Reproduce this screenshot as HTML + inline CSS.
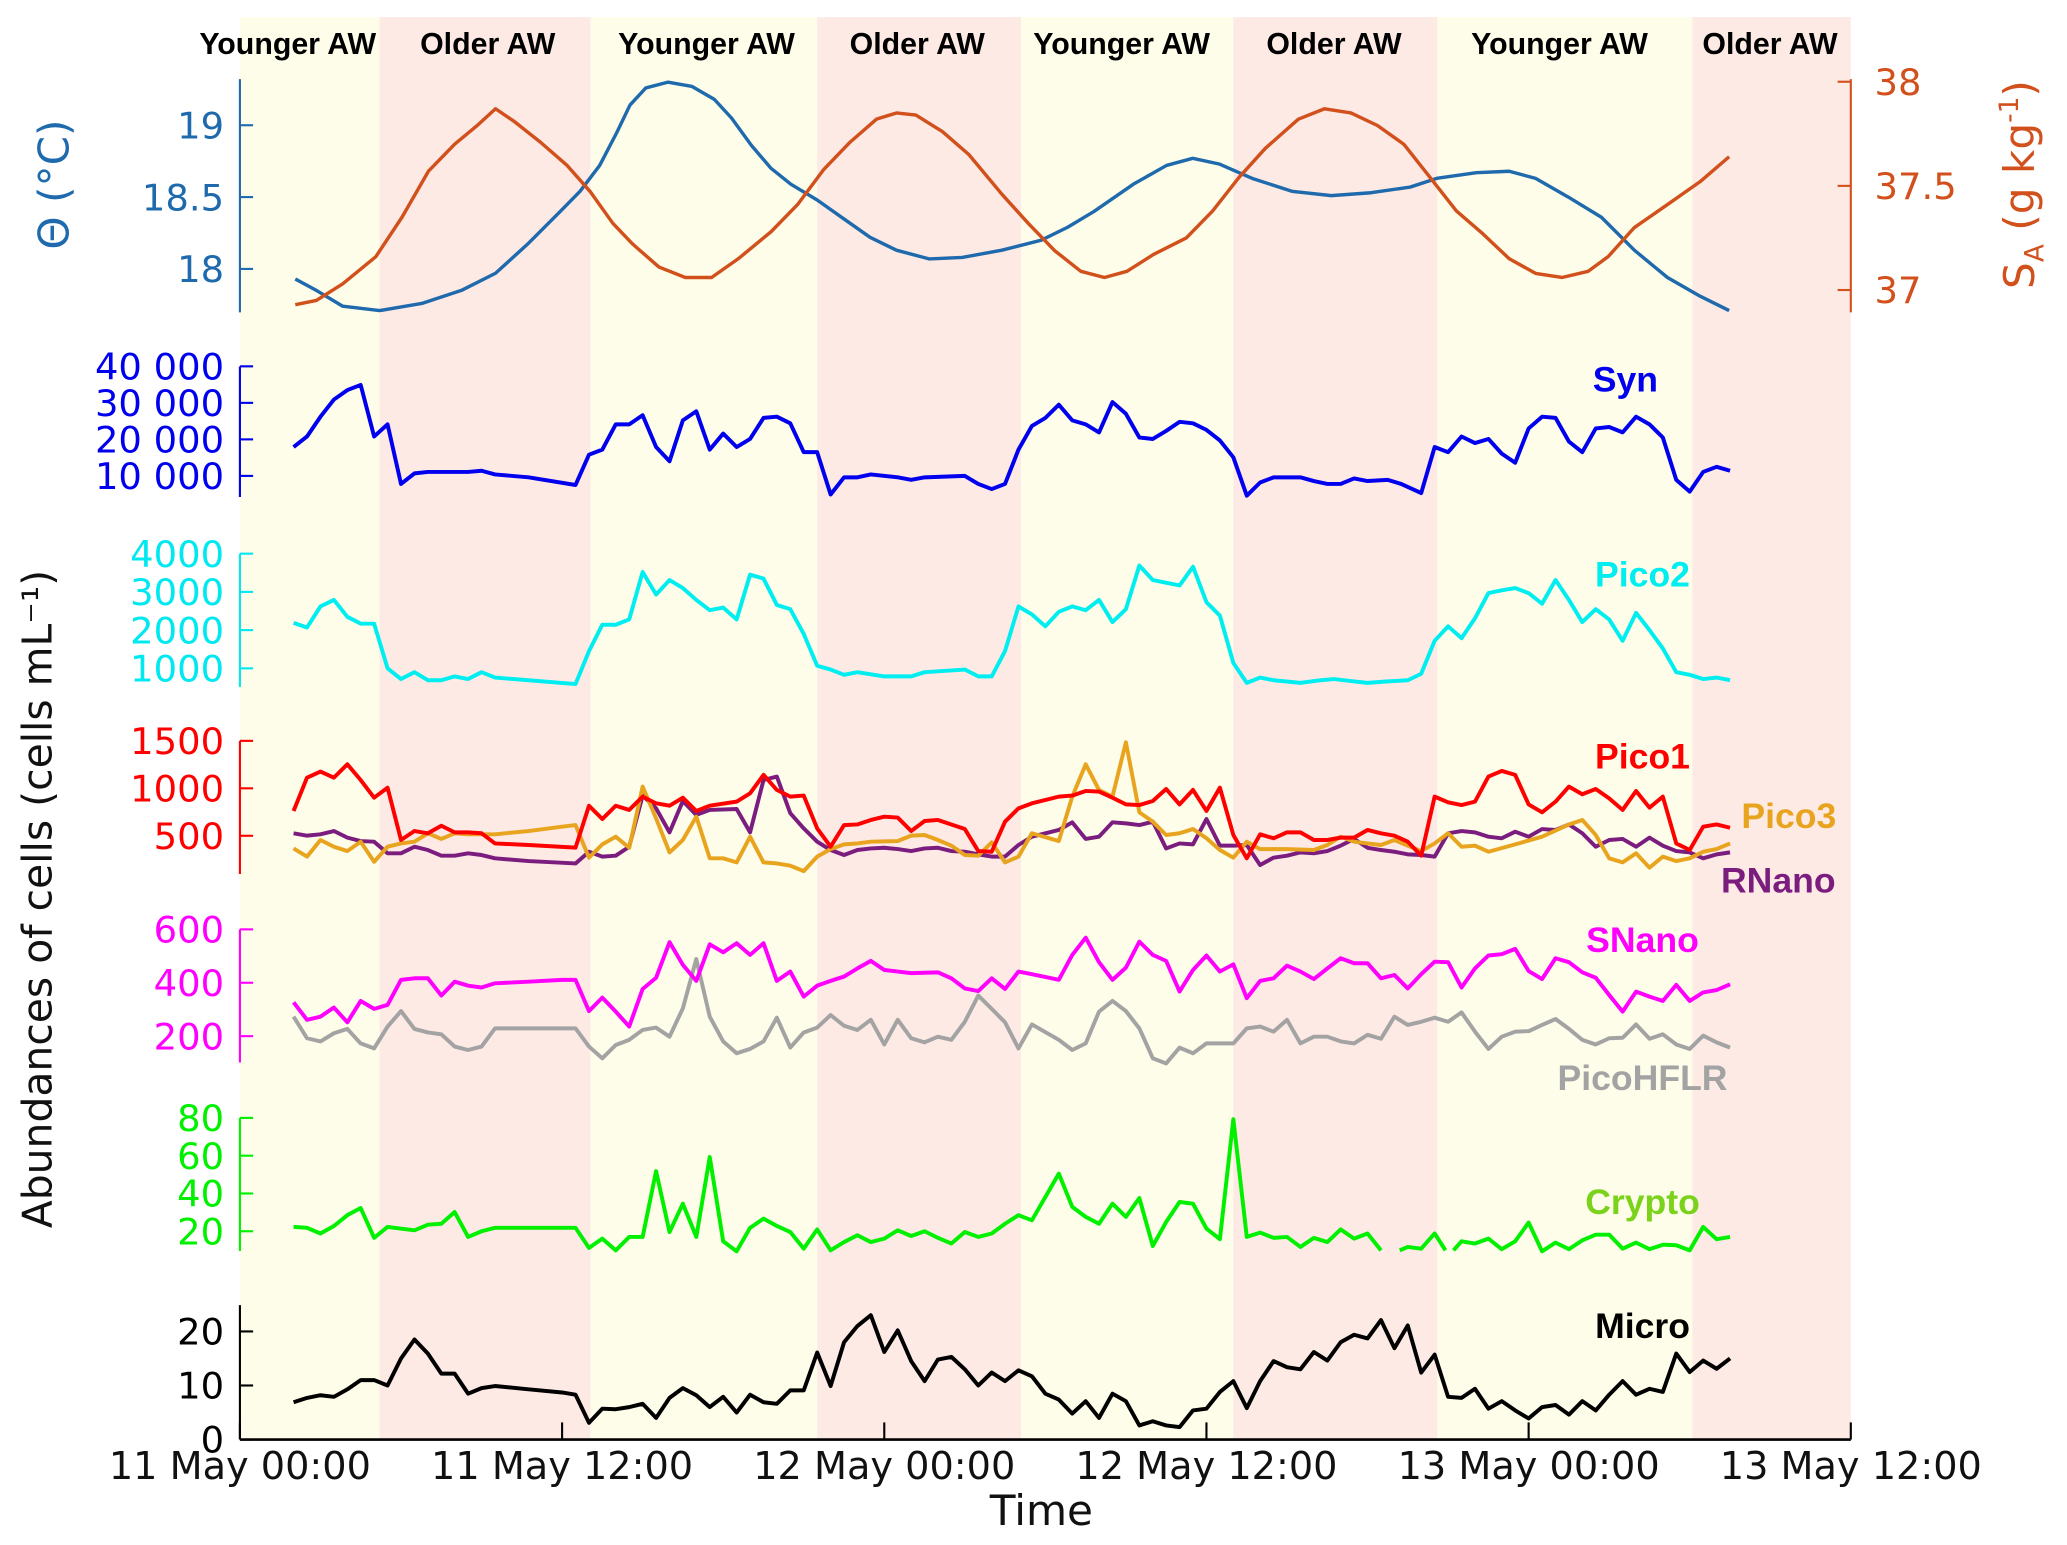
<!DOCTYPE html>
<html><head><meta charset="utf-8">
<style>
html,body{margin:0;padding:0;background:#fff;}
svg{display:block;}
text{font-family:"DejaVu Sans","Liberation Sans",sans-serif;}
.lbl{font-family:"Liberation Sans",sans-serif;font-weight:bold;}
</style></head>
<body>
<svg id="chart" width="2067" height="1545" viewBox="0 0 1568 1172" preserveAspectRatio="none" xmlns="http://www.w3.org/2000/svg">
<g id="bg"></g>
<g id="marks"></g>
<g id="axes"></g>
</svg>
<script>
// ---------- data (time in hours since 11 May 00:00) ----------
const massNames = ["Younger AW","Older AW","Younger AW","Older AW","Younger AW","Older AW","Younger AW","Older AW"];
const massStarts = [0,5.2,13.06,21.5,29.1,37.0,44.6,54.1];
const massEnds = [5.2,13.06,21.5,29.1,37.0,44.6,54.1,60];
const massLabelHours = [1.78,9.23,17.38,25.23,32.84,40.75,49.15,56.99];
const xTickHours = [0,12,24,36,48,60];
const xTickLabels = ["11 May 00:00","11 May 12:00","12 May 00:00","12 May 12:00","13 May 00:00","13 May 12:00"];

const thetaT = [2.06,2.85,3.83,5.2,6.77,8.25,9.52,10.7,11.93,12.67,13.4,14.04,14.53,15.12,15.95,16.84,17.67,18.31,19.05,19.78,20.52,21.5,22.48,23.47,24.45,25.67,26.9,28.38,29.85,30.83,31.81,33.28,34.51,35.49,36.47,37.7,39.18,40.65,42.13,43.59,44.58,46.05,47.28,48.26,49.48,50.71,51.94,53.17,54.39,55.47];
const thetaV = [17.93,17.85,17.74,17.71,17.76,17.85,17.97,18.17,18.40,18.54,18.72,18.95,19.14,19.26,19.30,19.27,19.18,19.05,18.86,18.70,18.59,18.48,18.35,18.22,18.13,18.07,18.08,18.13,18.20,18.29,18.40,18.59,18.72,18.77,18.73,18.63,18.54,18.51,18.53,18.57,18.63,18.67,18.68,18.63,18.50,18.36,18.13,17.94,17.81,17.71];
const saT = [2.06,2.85,3.83,5.06,6.04,7.02,8.0,8.84,9.52,10.21,11.19,12.17,13.06,13.89,14.63,15.61,16.59,17.57,18.56,19.78,20.77,21.75,22.73,23.71,24.45,25.18,26.17,27.15,28.38,29.36,30.34,31.32,32.2,33.04,34.02,35.25,36.23,37.21,38.19,39.42,40.40,41.38,42.37,43.35,44.33,45.31,46.29,47.28,48.26,49.24,50.22,50.96,51.94,53.17,54.39,55.47];
const saV = [36.93,36.95,37.03,37.16,37.35,37.57,37.70,37.79,37.87,37.81,37.71,37.60,37.47,37.32,37.22,37.11,37.06,37.06,37.15,37.28,37.41,37.58,37.71,37.82,37.85,37.84,37.76,37.65,37.46,37.32,37.19,37.09,37.06,37.09,37.17,37.25,37.38,37.54,37.68,37.82,37.87,37.85,37.79,37.70,37.54,37.38,37.27,37.15,37.08,37.06,37.09,37.16,37.30,37.41,37.52,37.64];

const synT = [2,2.5,3,3.5,4,4.5,5,5.5,6,6.5,7,8.5,9,9.5,10.75,12.5,13,13.5,14,14.5,15,15.5,16,16.5,17,17.5,18,18.5,19,19.5,20,20.5,21,21.5,22,22.5,23,23.5,24.5,25,25.5,27,27.5,28,28.5,29,29.5,30,30.5,31,31.5,32,32.5,33,33.5,34,34.5,35,35.5,36,36.5,37,37.5,38,38.5,39.5,40,40.5,41,41.5,42,42.75,43.25,44,44.5,45,45.5,46,46.5,47,47.5,48,48.5,49,49.5,50,50.5,51,51.5,52,52.5,53,53.5,54,54.5,55,55.5];
const synV = [17900,20800,26200,30900,33500,34900,20800,24100,7800,10700,11100,11100,11400,10400,9600,7500,15800,17200,24100,24100,26600,17900,14000,25200,27700,17200,21600,17900,20100,25900,26200,24400,16500,16500,4900,9600,9600,10400,9600,8900,9600,10000,7800,6400,7800,17200,23700,25900,29500,25200,24100,21900,30200,27000,20500,20100,22300,24800,24400,22600,19700,15100,4600,8200,9600,9600,8600,7800,7800,9300,8600,8900,7800,5300,17900,16500,20800,19000,20100,16100,13600,23000,26200,25900,19400,16500,23000,23400,21900,26200,24100,20500,8900,5700,11100,12500,11400];

const pico2T = [2,2.5,3,3.5,4,4.5,5,5.5,6,6.5,7,7.5,8,8.5,9,9.5,10.75,12.5,13,13.5,14,14.5,15,15.5,16,16.5,17,17.5,18,18.5,19,19.5,20,20.5,21,21.5,22,22.5,23,24,25,25.5,27,27.5,28,28.5,29,29.5,30,30.5,31,31.5,32,32.5,33,33.5,34,35,35.5,36,36.5,37,37.5,38,38.5,39.5,40.25,40.75,41.5,42,42.75,43.5,44,44.5,45,45.5,46,46.5,47,47.5,48,48.5,49,49.5,50,50.5,51,51.5,52,52.5,53,53.5,54,54.5,55,55.5];
const pico2V = [2190,2070,2620,2790,2350,2170,2170,1000,720,900,690,690,790,720,900,760,690,590,1450,2140,2140,2280,3520,2930,3310,3100,2790,2520,2590,2280,3450,3350,2660,2550,1900,1070,970,830,900,790,790,900,970,790,790,1450,2620,2410,2100,2480,2620,2520,2790,2210,2550,3690,3310,3170,3660,2730,2380,1140,620,760,690,620,690,720,660,620,660,690,860,1720,2100,1790,2310,2970,3040,3100,2970,2690,3310,2790,2210,2550,2280,1720,2450,2000,1520,900,830,720,760,690];

const lateT = [30.5,31,31.5,32,32.5,33,33.5,34,34.5,35,35.5,36,36.5,37,37.5,38,38.5,39,39.5,40,40.5,41,41.5,42,42.5,43,43.5,44,44.5,45,45.5,46,46.5,47,47.5,48,48.5,49,49.5,50,50.5,51,51.5,52,52.5,53,53.5,54,54.5,55,55.5];

const pico1EarlyT = [2,2.5,3,3.5,4,4.5,5,5.5,6,6.5,7,7.5,8,8.5,9,9.5,10.75,12.5,13,13.5,14,14.5,15,15.5,16,16.5,17,17.5,18.5,19,19.5,20,20.5,21,21.5,22,22.5,23,23.5,24,24.5,25,25.5,26,26.5,27,27.5,28,28.5,29,29.5];
const pico1V = [761,1113,1176,1113,1253,1088,902,1007,455,550,526,606,536,536,526,420,403,375,817,677,817,772,912,842,817,902,761,817,860,947,1141,983,912,923,578,385,613,620,666,701,691,550,656,666,620,571,339,332,649,789,842,
912,923,972,965,902,831,824,867,993,831,983,761,1007,508,262,515,473,536,536,455,455,480,480,561,526,501,438,290,912,853,824,860,1123,1183,1141,831,747,860,1018,937,993,895,772,972,796,912,420,350,596,620,585];

const rnanoEarlyT = [2,2.5,3,3.5,4,4.5,5,5.5,6,6.5,7,7.5,8,8.5,9,9.5,10.75,12.5,13,13.5,14,14.5,15,15.5,16,16.5,17,17.5,18,18.5,19,19.5,20,20.5,21,21.5,22,22.5,23,23.5,24,24.5,25,25.5,26,26.5,27,27.5,28,28.5,29,29.5];
const rnanoV = [526,501,515,550,480,445,438,315,315,385,350,290,290,315,297,262,234,209,332,280,290,385,923,789,536,867,719,772,782,536,1088,1123,737,578,438,350,297,350,367,374,360,339,367,374,339,332,304,280,280,403,490,561,
642,466,490,642,631,613,649,367,420,410,677,396,396,403,192,269,290,325,315,339,396,466,374,350,332,304,297,280,526,550,536,490,473,543,490,571,561,620,526,385,455,466,385,480,396,339,325,262,304,325,304];

const pico3T = [2,2.5,3,3.5,4,4.5,5,5.5,6,6.5,7,7.5,8,8.5,9.5,10.75,12,12.5,13,13.5,14,14.5,15,15.5,16,16.5,17,17.5,18,18.5,19,19.5,20,20.5,21,21.5,22,22.5,23,23.5,24.5,25,25.5,26,26.5,27,27.5,28,28.5,29,29.5,
30.5,31,31.5,32,32.5,33,33.5,34,34.5,35,35.5,36,36.5,37,37.5,38,39,40,40.5,41,41.5,42,42.5,43,43.5,44,44.5,45,45.5,46,46.5,47.5,48.5,49.5,50,50.5,51,51.5,52,52.5,53,53.5,54,54.5,55,55.5];
const pico3V = [367,280,455,385,339,438,227,385,420,438,526,466,526,515,515,550,596,613,269,410,490,374,1018,684,325,455,701,262,262,220,490,220,209,185,128,280,360,410,420,438,445,501,508,455,396,297,290,431,220,280,526,
445,912,1253,983,912,1485,747,649,508,526,571,473,350,269,438,360,360,350,403,490,438,420,403,455,396,339,420,526,385,396,332,410,490,620,666,508,262,220,315,164,280,234,262,332,360,420];

const snanoEarlyT = [2,2.5,3,3.5,4,4.5,5,5.5,6,6.5,7,7.5,8,8.5,9,9.5,10.75,12,12.5,13,13.5,14,14.5,15,15.5,16,16.5,17,17.5,18,18.5,19,19.5,20,20.5,21,21.5,22,22.5,23,23.5,24,24.5,25,26,26.5,27,27.5,28,28.5,29,29.5];
const snanoV = [327,261,273,307,252,332,302,317,411,417,417,352,404,389,382,398,404,411,411,294,344,292,236,377,419,552,467,407,544,514,548,504,548,407,442,348,389,407,423,454,482,448,442,436,439,417,379,369,417,377,442,432,
411,504,569,477,411,457,554,504,482,367,448,502,442,469,342,407,417,464,442,414,454,492,473,473,417,429,379,432,479,477,382,454,502,507,527,444,414,492,477,439,419,354,292,367,348,332,392,332,364,373,394];

const hflrEarlyT = [2,2.5,3,3.5,4,4.5,5,5.5,6,6.5,7,7.5,8,8.5,9,9.5,10.75,12,12.5,13,13.5,14,14.5,15,15.5,16,16.5,17,17.5,18,18.5,19,19.5,20,20.5,21,21.5,22,22.5,23,23.5,24,24.5,25,25.5,26,26.5,27,27.5,28,28.5,29,29.5];
const hflrV = [273,192,180,211,227,173,154,236,294,227,214,207,161,148,161,229,229,229,229,161,117,167,186,223,232,198,304,489,273,180,136,152,180,269,157,214,232,279,239,223,261,169,261,192,177,198,186,254,352,302,252,154,244,
186,148,173,292,332,294,229,117,98,157,136,173,173,173,229,236,217,261,173,198,198,180,173,205,190,273,242,254,269,254,289,217,152,198,217,219,242,264,227,186,169,192,194,244,190,207,169,152,202,177,157];

const cryptoT = [2,2.5,3,3.5,4,4.5,5,5.5,6.5,7,7.5,8,8.5,9,9.5,12.5,13,13.5,14,14.5,15,15.5,16,16.5,17,17.5,18,18.5,19,19.5,20,20.5,21,21.5,22,22.5,23,23.5,24,24.5,25,25.5,26,26.5,27,27.5,28,28.5,29,29.5,
30.5,31,31.5,32,32.5,33,33.5,34,34.5,35,35.5,36,36.5,37,37.5,38,38.5,39,39.5,40,40.5,41,41.5,42,42.5,42.85,43.2,43.5,44,44.5,44.9,45.05,45.2,45.5,46,46.5,47,47.5,48,48.5,49,49.5,50,50.5,51,51.5,52,52.5,53,53.5,54,54.5,55,55.5];
const cryptoV = [22.3,21.8,18.8,22.8,28.5,32.3,16.5,22.3,20.5,23.5,24.0,30.2,17.0,20.0,21.8,21.8,11.2,16.1,9.9,17.0,17.0,51.8,19.6,34.6,17.0,59.3,14.7,9.4,21.8,26.7,22.8,19.6,10.8,21.0,9.9,14.3,17.9,14.3,16.1,20.5,17.5,20.0,16.5,13.5,19.6,17.0,18.8,24.0,28.5,25.8,
50.5,32.9,27.6,24.0,34.6,27.6,37.6,12.2,24.9,35.5,34.6,21.4,15.8,79.3,17.0,19.3,16.5,17.0,11.7,16.5,14.3,21.0,16.1,18.8,9.9,null,9.9,11.7,10.8,18.8,9.9,null,9.9,14.7,13.5,16.1,10.5,14.7,24.6,9.4,14.0,10.5,15.2,18.2,18.2,10.8,14.0,10.5,12.9,12.6,9.9,22.3,15.8,17.0];

const microT = [2,2.5,3,3.5,4,4.5,5,5.5,6,6.5,7,7.5,8,8.5,9,9.5,10.75,12,12.5,13,13.5,14,14.5,15,15.5,16,16.5,17,17.5,18,18.5,19,19.5,20,20.5,21,21.5,22,22.5,23,23.5,24,24.5,25,25.5,26,26.5,27,27.5,28,28.5,29,29.5,30,
30.5,31,31.5,32,32.5,33,33.5,34,34.5,35,35.5,36,36.5,37,37.5,38,38.5,39,39.5,40,40.5,41,41.5,42,42.5,43,43.5,44,44.5,45,45.5,46,46.5,47,47.5,48,48.5,49,49.5,50,50.5,51,51.5,52,52.5,53,53.5,54,54.5,55,55.5];
const microV = [6.9,7.7,8.2,7.9,9.3,11.0,11.0,10.0,15.0,18.5,15.9,12.2,12.2,8.5,9.5,9.9,9.3,8.7,8.3,3.1,5.7,5.6,6.0,6.6,4.0,7.7,9.5,8.2,6.0,7.9,5.0,8.3,6.9,6.6,9.1,9.1,16.1,9.9,18.0,21.0,23.0,16.2,20.2,14.5,10.8,14.8,15.3,13.0,10.0,12.4,10.8,12.8,11.7,8.5,
7.4,4.8,7.1,4.0,8.5,7.1,2.6,3.4,2.6,2.3,5.4,5.7,8.8,10.8,5.8,10.8,14.5,13.4,13.0,16.2,14.6,18.0,19.4,18.7,22.1,16.9,21.1,12.4,15.7,7.9,7.7,9.4,5.7,7.1,5.4,3.9,6.0,6.4,4.6,7.1,5.4,8.3,10.8,8.3,9.4,8.8,15.9,12.5,14.6,13.1,15.0];

// ---------- scales ----------
const X0 = 182, X1 = 1404, HMAX = 60;
const xs = h => X0 + h / HMAX * (X1 - X0);
const NS = "http://www.w3.org/2000/svg";
function mk(tag, attrs, parent) {
  const e = document.createElementNS(NS, tag);
  for (const k in attrs) e.setAttribute(k, attrs[k]);
  parent.appendChild(e);
  return e;
}
const yTheta = v => 95 - (v - 19) * 109;
const ySA = v => 62 - (v - 38) * 158;
const ySyn = v => 361 - (v - 10000) * 0.00277;
const yPico2 = v => 507 - (v - 1000) * 0.029;
const yPico1 = v => 634 - (v - 500) * 0.072;
const ySNano = v => 786 - (v - 200) * 0.2025;
const yCrypto = v => 934 - (v - 20) * 1.433;
const yMicro = v => 1092 - v * 4.1;

const bg = document.getElementById('bg');
const marks = document.getElementById('marks');
const axes = document.getElementById('axes');

for (let i = 0; i < massStarts.length; i++) {
  const r = mk('rect', {x: xs(massStarts[i]), y: 13, width: xs(massEnds[i]) - xs(massStarts[i]), height: 1092 - 13, fill: massNames[i].startsWith('Younger') ? '#fefde9' : '#fdeae5'}, bg);
  
  
}
for (let i = 0; i < massNames.length; i++) {
  const t = mk('text', {x: xs(massLabelHours[i]), y: 41, 'text-anchor': 'middle', 'font-size': 23, class: 'lbl', fill: '#000'}, axes);
  t.textContent = massNames[i];
  
  
}

function line(ts, vs, yf, color, name, w) {
  let d = '', pen = false;
  for (let i = 0; i < ts.length; i++) {
    if (vs[i] === null || vs[i] === undefined) { pen = false; continue; }
    d += (pen ? 'L' : 'M') + xs(ts[i]).toFixed(1) + ' ' + yf(vs[i]).toFixed(1);
    pen = true;
  }
  const p = mk('path', {d: d, fill: 'none', stroke: color, 'stroke-width': w || 3, 'stroke-linejoin': 'round'}, marks);
  
  
}
line(thetaT, thetaV, yTheta, '#1f6aad', 'theta-line', 2.6);
line(saT, saV, ySA, '#d1501c', 'salinity-line', 2.6);
line(synT, synV, ySyn, '#0000ee', 'syn-line');
line(pico2T, pico2V, yPico2, '#00eef0', 'pico2-line');
line(pico1EarlyT.concat(lateT), rnanoV, yPico1, '#7b1d7e', 'rnano-line');
line(pico3T, pico3V, yPico1, '#e8a41e', 'pico3-line');
line(pico1EarlyT.concat(lateT), pico1V, yPico1, '#ff0000', 'pico1-line');
line(hflrEarlyT.concat(lateT), hflrV, ySNano, '#a3a3a3', 'picohflr-line');
line(snanoEarlyT.concat(lateT), snanoV, ySNano, '#ff00ff', 'snano-line');
line(cryptoT, cryptoV, yCrypto, '#00f000', 'crypto-line');
line(microT, microV, yMicro, '#000000', 'micro-line');

function yAxis(x, yTop, yBot, ticks, labels, yf, color, name, right) {
  const g = mk('g', {}, axes);
  
  
  mk('line', {x1: x, x2: x, y1: yTop, y2: yBot, stroke: color, 'stroke-width': 1.6}, g);
  ticks.forEach((v, i) => {
    const y = yf(v);
    mk('line', {x1: x, x2: right ? x - 10 : x + 10, y1: y, y2: y, stroke: color, 'stroke-width': 1.6}, g);
    const t = mk('text', {x: right ? x + 18 : x - 12, y: y + 10, 'text-anchor': right ? 'start' : 'end', 'font-size': 28, fill: color}, g);
    t.textContent = labels[i];
    
    
  });
}
const thetaTicks = [18, 18.5, 19], thetaLabels = ['18', '18.5', '19'];
const saTicks = [37, 37.5, 38], saLabels = ['37', '37.5', '38'];
const synTicks = [10000, 20000, 30000, 40000], synLabels = ['10 000', '20 000', '30 000', '40 000'];
const pico2Ticks = [1000, 2000, 3000, 4000], pico2Labels = ['1000', '2000', '3000', '4000'];
const pico1Ticks = [500, 1000, 1500], pico1Labels = ['500', '1000', '1500'];
const snTicks = [200, 400, 600], snLabels = ['200', '400', '600'];
const crTicks = [20, 40, 60, 80], crLabels = ['20', '40', '60', '80'];
const miTicks = [0, 10, 20], miLabels = ['0', '10', '20'];
yAxis(X0, 60, 237, thetaTicks, thetaLabels, yTheta, '#1f6aad', 'theta-axis', false);
yAxis(X1, 60, 237, saTicks, saLabels, ySA, '#d1501c', 'salinity-axis', true);
yAxis(X0, 278, 377, synTicks, synLabels, ySyn, '#0000ee', 'syn-axis', false);
yAxis(X0, 420, 521, pico2Ticks, pico2Labels, yPico2, '#00e8f0', 'pico2-axis', false);
yAxis(X0, 562, 663, pico1Ticks, pico1Labels, yPico1, '#ff0000', 'pico1-axis', false);
yAxis(X0, 705, 806, snTicks, snLabels, ySNano, '#ff00ff', 'snano-axis', false);
yAxis(X0, 848, 949, crTicks, crLabels, yCrypto, '#00f000', 'crypto-axis', false);
yAxis(X0, 990, 1092, miTicks, miLabels, yMicro, '#000000', 'micro-axis', false);

const xg = mk('g', {}, axes);


mk('line', {x1: X0, x2: X1, y1: 1092, y2: 1092, stroke: '#000', 'stroke-width': 2}, xg);
xTickHours.forEach((h, i) => {
  mk('line', {x1: xs(h), x2: xs(h), y1: 1092, y2: 1079, stroke: '#000', 'stroke-width': 1.6}, xg);
  const t = mk('text', {x: xs(h), y: 1122, 'text-anchor': 'middle', 'font-size': 29, fill: '#111'}, xg);
  t.textContent = xTickLabels[i];
  
  
});

function txt(s, attrs, name) {
  const t = mk('text', attrs, axes);
  t.textContent = s;
  
  
  return t;
}
txt('Time', {x: 790, y: 1157, 'text-anchor': 'middle', 'font-size': 32, fill: '#111'}, 'x-axis-title');
txt('Θ (°C)', {x: 0, y: 0, transform: 'translate(52,140) rotate(-90)', 'text-anchor': 'middle', 'font-size': 32, fill: '#1f6aad'}, 'theta-axis-title');
txt('Abundances of cells (cells mL\u207B\u00B9)', {x: 0, y: 0, transform: 'translate(39,682) rotate(-90)', 'text-anchor': 'middle', 'font-size': 31, fill: '#111'}, 'abundance-axis-title');
const sa = mk('text', {x: 0, y: 0, transform: 'translate(1543,140) rotate(-90)', 'text-anchor': 'middle', 'font-size': 32, fill: '#d1501c'}, axes);


sa.innerHTML = 'S<tspan font-size="20" dy="7">A</tspan><tspan dy="-7"> (g kg</tspan><tspan font-size="20" dy="-12">-1</tspan><tspan dy="12">)</tspan>';

txt('Syn', {x: 1233, y: 297, 'text-anchor': 'middle', 'font-size': 27, class: 'lbl', fill: '#0000ee'}, 'syn-label');
txt('Pico2', {x: 1246, y: 445, 'text-anchor': 'middle', 'font-size': 27, class: 'lbl', fill: '#00eef0'}, 'pico2-label');
txt('Pico1', {x: 1246, y: 583, 'text-anchor': 'middle', 'font-size': 27, class: 'lbl', fill: '#ff0000'}, 'pico1-label');
txt('Pico3', {x: 1357, y: 628, 'text-anchor': 'middle', 'font-size': 27, class: 'lbl', fill: '#e8a41e'}, 'pico3-label');
txt('RNano', {x: 1349, y: 677, 'text-anchor': 'middle', 'font-size': 27, class: 'lbl', fill: '#7b1d7e'}, 'rnano-label');
txt('SNano', {x: 1246, y: 722, 'text-anchor': 'middle', 'font-size': 27, class: 'lbl', fill: '#ff00ff'}, 'snano-label');
txt('PicoHFLR', {x: 1246, y: 827, 'text-anchor': 'middle', 'font-size': 27, class: 'lbl', fill: '#a3a3a3'}, 'picohflr-label');
txt('Crypto', {x: 1246, y: 921, 'text-anchor': 'middle', 'font-size': 27, class: 'lbl', fill: '#7ad21a'}, 'crypto-label');
txt('Micro', {x: 1246, y: 1015, 'text-anchor': 'middle', 'font-size': 27, class: 'lbl', fill: '#000'}, 'micro-label');
</script>
</body></html>
